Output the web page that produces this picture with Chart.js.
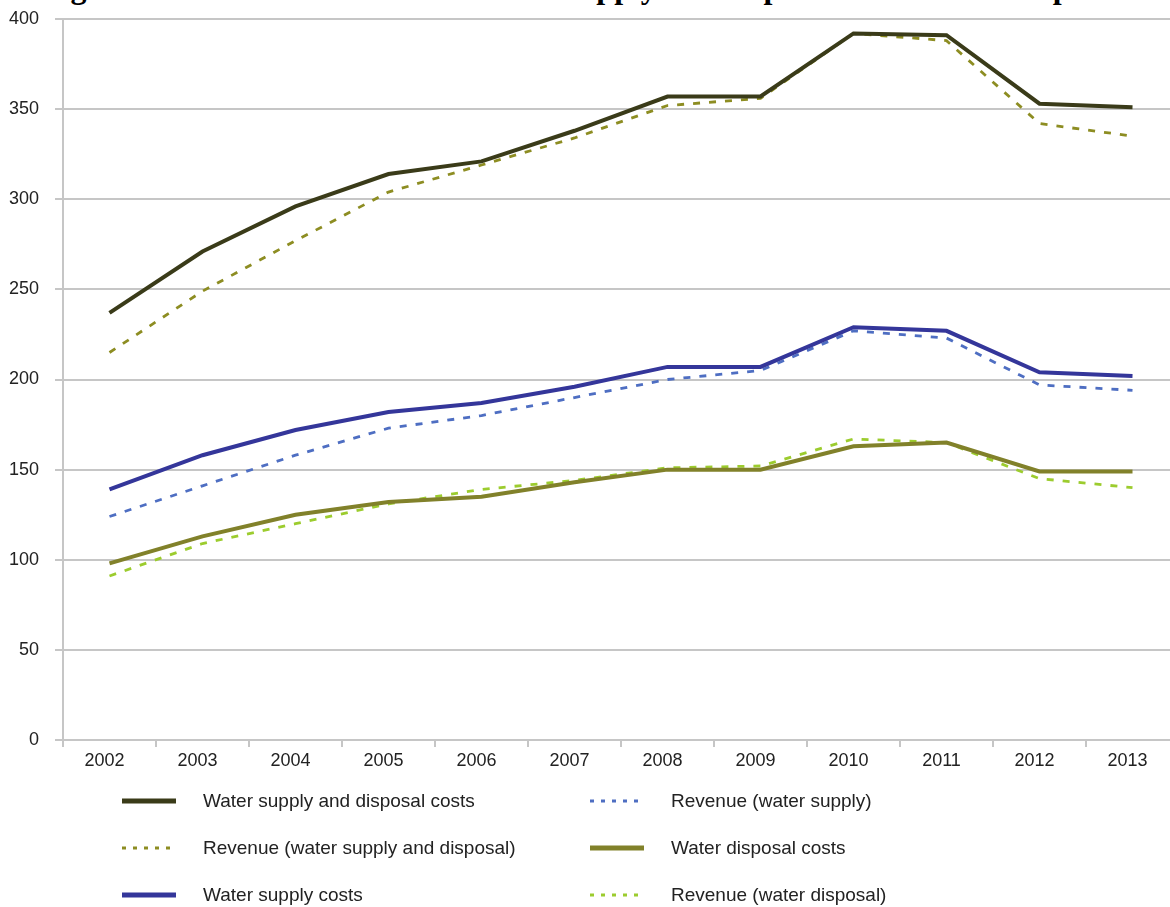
<!DOCTYPE html>
<html>
<head>
<meta charset="utf-8">
<script src="https://cdn.jsdelivr.net/npm/chart.js@4.4.1/dist/chart.umd.min.js"></script>
<style>
  html, body { margin: 0; padding: 0; background: #fff; overflow: hidden; width: 1170px; height: 907px; }
  #wrap { position: relative; width: 1170px; height: 907px; overflow: hidden; }
  #title {
    position: absolute; left: 42px; top: -29px; line-height: 32px;
    font-family: "Liberation Serif", "Times New Roman", serif; font-weight: bold; font-size: 32px;
    color: #000; white-space: nowrap;
  }
  #chart { position: absolute; left: 0; top: 0; }
  #legend {
    position: absolute; left: 122px; top: 777px;
    display: grid; grid-template-columns: 468px 400px; grid-template-rows: repeat(3, 47px);
    grid-auto-flow: column;
    font-family: "Liberation Sans", Arial, sans-serif; font-size: 19px; color: #222;
  }
  .item { display: flex; align-items: center; height: 47px; }
  .item svg { width: 54px; height: 10px; margin-right: 27px; flex: none; }
</style>
</head>
<body>
<div id="wrap">
  <div id="title">Figure 4: Revenues and costs of water supply and disposal services in real prices</div>
  <canvas id="chart" width="1185" height="780"></canvas>
  <div id="legend"></div>
</div>
<script>
// Years on the category axis
const years = ['2002','2003','2004','2005','2006','2007','2008','2009','2010','2011','2012','2013'];

// Costs and revenues per year
const supplyDisposalCosts   = [237, 271, 296, 314, 321, 338, 357, 357, 392, 391, 353, 351];
const supplyDisposalRevenue = [215, 249, 277, 304, 319, 334, 352, 356, 392, 388, 342, 335];
const supplyCosts           = [139, 158, 172, 182, 187, 196, 207, 207, 229, 227, 204, 202];
const supplyRevenue         = [124, 141, 158, 173, 180, 190, 200, 205, 227, 223, 197, 194];
const disposalCosts         = [ 98, 113, 125, 132, 135, 143, 150, 150, 163, 165, 149, 149];
const disposalRevenue       = [ 91, 109, 120, 131, 139, 144, 151, 152, 167, 165, 145, 140];

// Value axis ticks
const yTicks = [0, 50, 100, 150, 200, 250, 300, 350, 400];

const font = { family: '"Liberation Sans", Arial, sans-serif', size: 18 };
const gridColor = '#c6c6c6';

const solid = (label, data, color, order) => ({
  label, data, borderColor: color, backgroundColor: color,
  borderWidth: 4, pointRadius: 0, tension: 0, fill: false, order, legendKind: 'solid'
});
const dashed = (label, data, color, order) => ({
  label, data, borderColor: color, backgroundColor: color,
  borderWidth: 2.8, borderDash: [7, 9], pointRadius: 0, tension: 0, fill: false, order, legendKind: 'dash'
});

// Legend order, filled column by column
const datasets = [
  solid('Water supply and disposal costs', supplyDisposalCosts, '#3a3b19', 1),
  dashed('Revenue (water supply and disposal)', supplyDisposalRevenue, '#8d8d22', 2),
  solid('Water supply costs', supplyCosts, '#34369a', 1),
  dashed('Revenue (water supply)', supplyRevenue, '#4e6ec2', 2),
  solid('Water disposal costs', disposalCosts, '#81812a', 1),
  dashed('Revenue (water disposal)', disposalRevenue, '#9ccc2e', 2)
];

const chart = new Chart(document.getElementById('chart'), {
  type: 'line',
  data: { labels: years, datasets },
  options: {
    responsive: false,
    animation: false,
    devicePixelRatio: 1,
    layout: { padding: { top: 19, right: 6, left: 0, bottom: 5 } },
    plugins: { legend: { display: false }, tooltip: { enabled: false }, title: { display: false } },
    scales: {
      x: {
        type: 'category',
        offset: true,
        afterFit: s => { s.height = 35; },
        grid: { offset: true, drawOnChartArea: false, drawTicks: true, tickLength: 7, color: gridColor, lineWidth: 2 },
        border: { color: gridColor, width: 2 },
        ticks: { font, color: '#222', padding: 3, labelOffset: -5, maxRotation: 0, autoSkip: false }
      },
      y: {
        min: 0, max: 400,
        afterFit: s => { s.width = 63; s.paddingTop = 0; s.paddingBottom = 0; },
        afterBuildTicks: s => { s.ticks = yTicks.map(v => ({ value: v })); },
        grid: { color: gridColor, lineWidth: 2, tickLength: 8, drawTicks: true },
        border: { color: gridColor, width: 2 },
        ticks: { font, color: '#222', padding: 16 }
      }
    }
  }
});

// HTML legend built from the chart's datasets
const legend = document.getElementById('legend');
chart.data.datasets.forEach(ds => {
  const item = document.createElement('div');
  item.className = 'item';
  const dash = ds.legendKind === 'dash' ? 'stroke-dasharray="4 7"' : '';
  const w = ds.legendKind === 'dash' ? 3 : 5;
  item.innerHTML = '<svg viewBox="0 0 54 10"><line x1="0" y1="5" x2="54" y2="5" stroke="' + ds.borderColor +
    '" stroke-width="' + w + '" ' + dash + '/></svg><span>' + ds.label + '</span>';
  legend.appendChild(item);
});
</script>
</body>
</html>
